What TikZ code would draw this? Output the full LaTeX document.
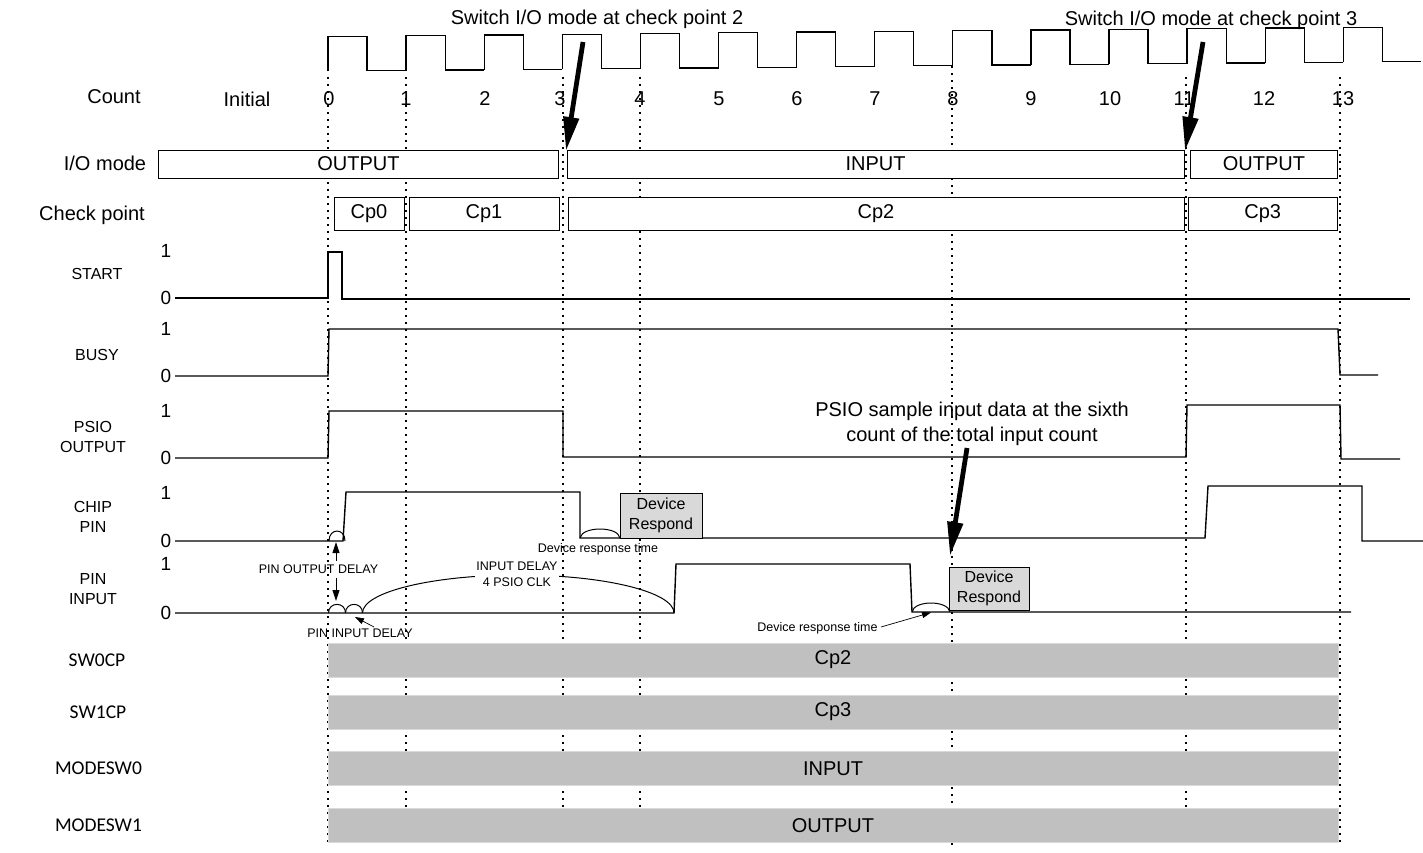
\documentclass[tikz,border=0pt]{standalone}
\usepackage{fontspec}
\setmainfont{Liberation Sans}
\newfontfamily\calibfont{Carlito}
\usetikzlibrary{arrows.meta}
\definecolor{barfill}{HTML}{C0C0C0}
\definecolor{barline}{HTML}{D9D9D9}
\definecolor{respfill}{HTML}{D9D9D9}
\begin{document}
\begin{tikzpicture}[x=1pt,y=-1pt,
  big/.style={font=\fontsize{20}{25}\selectfont, inner sep=0pt, align=center},
  mid/.style={font=\fontsize{16}{20}\selectfont, inner sep=0pt, align=center},
  lvl/.style={font=\fontsize{19}{22}\selectfont, inner sep=0pt},
  tiny/.style={font=\fontsize{12.5}{15.5}\selectfont, inner sep=0pt, align=center},
  sigl/.style={font=\calibfont\fontsize{19.5}{23}\selectfont, inner sep=0pt},
  wave/.style={line width=1.4pt, line join=miter},
  clk/.style={line width=1.3pt},
  gridline/.style={line width=1.6pt, dash pattern=on 1.6pt off 5.4pt},
  modebox/.style={draw, fill=white, line width=0.9pt, inner sep=0pt, font=\fontsize{20}{24}\selectfont},
  respbox/.style={draw, fill=respfill, line width=0.9pt, inner sep=0pt, align=center, font=\fontsize{16}{20}\selectfont},
  sigbar/.style={fill=barfill, draw=barline, line width=1pt, inner sep=0pt, minimum height=34pt, minimum width=1010pt, font=\fontsize{20}{24}\selectfont},
  bigarrow/.style={line width=4.8pt, -{Triangle[length=34pt,width=15pt]}},
  smallarrow/.style={line width=0.9pt, -{Triangle[length=11pt,width=7pt]}},
  thinarrow/.style={line width=0.7pt, -{Triangle[length=9pt,width=6pt]}},
  bump/.style={line width=1pt},
]
\useasboundingbox (0,0) rectangle (1423,853);

% dotted grid lines
\foreach \gx/\gy in {328/77, 406/77, 563/77, 640/77, 952/66, 1186/77, 1340/77}
  \draw[gridline] (\gx,\gy) -- (\gx,845);

% clock
\foreach \k in {0,...,13} {
  \pgfmathsetmacro\xa{328+78.1*\k}
  \pgfmathsetmacro\xb{\xa+39.05}
  \pgfmathsetmacro\xc{\xa+78.1}
  \pgfmathsetmacro\hi{36.3-0.0089*(\xa-328)}
  \pgfmathsetmacro\lo{71-0.0089*(\xb-328)}
  \pgfmathsetmacro\lop{\lo+0.0089*78.1}
  \draw[clk] (\xa,\lop) -- (\xa,\hi) -- (\xb,\hi) -- (\xb,\lo) -- (\xc,\lo);
}

% titles
\node[big] (t2) at (597,19) {Switch I/O mode at check point 2};
\node[big] (t3) at (1211,20) {Switch I/O mode at check point 3};

% count row
\node[big] (count) at (114,97) {Count};
\node[big] (initial) at (247,99) {Initial};
\foreach \i/\lx in {0/329,1/406,2/485,3/560,4/640,5/719,6/797,7/875,8/953,9/1031,10/1110,11/1184,12/1264,13/1343}
  \node[big] (c\i) at (\lx,99) {\i};

% I/O mode row
\node[big] (iolab) at (105,163) {I/O mode};
\node[modebox, minimum width=400pt, minimum height=28pt] (io1) at (358.5,164) {OUTPUT};
\node[modebox, minimum width=617pt, minimum height=28pt] (io2) at (875.5,164) {INPUT};
\node[modebox, minimum width=147pt, minimum height=28pt] (io3) at (1264,164) {OUTPUT};

% check point row
\node[big] (cplab) at (92,215) {Check point};
\node[modebox, minimum width=70pt, minimum height=32.5pt] (cp0) at (369,213.7) {Cp0};
\node[modebox, minimum width=150pt, minimum height=32.5pt] (cp1) at (484,213.7) {Cp1};
\node[modebox, minimum width=616pt, minimum height=32.5pt] (cp2) at (876,213.7) {Cp2};
\node[modebox, minimum width=149.5pt, minimum height=32.5pt] (cp3) at (1262.75,213.7) {Cp3};

% signal labels
\node[mid] (lstart) at (97,274) {START};
\node[mid] (lbusy) at (97,355) {BUSY};
\node[mid] (lpsio) at (93,437) {PSIO\\OUTPUT};
\node[mid] (lchip) at (93,517) {CHIP\\PIN};
\node[mid] (lpin) at (93,589) {PIN\\INPUT};
\foreach \nm/\ya/\yb in {s/251/298, b/329/376, p/411/458, c/493/541, i/564/613} {
  \node[lvl] (one\nm) at (166,\ya) {1};
  \node[lvl] (zero\nm) at (166,\yb) {0};
}

% waveforms
\draw[wave] (175,298) -- (328,298) -- (328,252) -- (342,252) -- (342,299) -- (1410,299);
\draw[wave] (175,376) -- (328,376) -- (329,329) -- (1338,329) -- (1340,375) -- (1378,375);
\draw[wave] (175,458) -- (328,458) -- (329,411) -- (563,411) -- (563,457) -- (1186,457) -- (1187,405) -- (1340,405) -- (1341,459) -- (1400,459);
\draw[wave] (175,541) -- (343,541) -- (346,492) -- (580,492) -- (580,538) -- (1205,538) -- (1208,486) -- (1362,486) -- (1362,541) -- (1423,541);
\draw[wave] (175,613) -- (674,613) -- (676,564) -- (910,564) -- (912,612) -- (1351,612);

% bumps (delays)
\draw[bump] (329,541) .. controls (329,527.7) and (345,527.7) .. (345,541);
\draw[bump] (580,538) .. controls (582,526) and (618,526) .. (620,538);
\draw[bump] (328.5,613) .. controls (328.5,601.5) and (345.5,601.5) .. (345.5,613);
\draw[bump] (345.5,613) .. controls (345.5,601.5) and (362.5,601.5) .. (362.5,613);
\draw[bump] (362.5,613) .. controls (362.5,592) and (432.5,575) .. (518.4,575) .. controls (604.3,575) and (674,592) .. (674,613);
\draw[bump] (912,612) .. controls (914,600) and (948,600) .. (950,612);

% device respond boxes
\node[respbox, minimum width=82pt, minimum height=45pt] (dr1) at (661,515.5) {Device\\Respond};
\node[respbox, minimum width=80pt, minimum height=43pt] (dr2) at (989,588.5) {Device\\Respond};

% annotation texts
\node[tiny] (drt1) at (598,549) {Device response time};
\node[tiny] (drt2) at (817.5,628) {Device response time};
\node[tiny] (pod) at (318.5,569) {PIN OUTPUT DELAY};
\node[tiny] (pid) at (360,633) {PIN INPUT DELAY};
\node[tiny, fill=white, inner sep=1pt] (idl) at (517,574.5) {INPUT DELAY\\4 PSIO CLK};
\node[big] (psio) at (972,423.5) {PSIO sample input data at the sixth\\count of the total input count};

% small arrows
\coordinate (podup) at (336,561);
\coordinate (podupt) at (336,542);
\coordinate (poddn) at (336,578);
\coordinate (poddnt) at (336,601);
\draw[smallarrow] (podup) -- (podupt);
\draw[smallarrow] (poddn) -- (poddnt);
\coordinate (pids) at (374,627);
\coordinate (pide) at (355,617);
\draw[thinarrow] (pids) -- (pide);
\coordinate (drs) at (881,627);
\coordinate (dre) at (931,612.5);
\draw[thinarrow] (drs) -- (dre);

% big arrows
\coordinate (a1s) at (583,42);
\coordinate (a1e) at (566,151);
\coordinate (a2s) at (1203,42);
\coordinate (a2e) at (1185,151);
\coordinate (a3s) at (967,448);
\coordinate (a3e) at (950,556);
\draw[bigarrow] (a1s) -- (a1e);
\draw[bigarrow] (a2s) -- (a2e);
\draw[bigarrow] (a3s) -- (a3e);

% bottom bars
\node[sigl] (lsw0) at (97,660) {SW0CP};
\node[sigl] (lsw1) at (98,712) {SW1CP};
\node[sigl] (lm0) at (98.5,768) {MODESW0};
\node[sigl] (lm1) at (98.5,825) {MODESW1};
\node[sigbar] (bsw0) at (833,660) {Cp2};
\node[sigbar] (bsw1) at (833,712) {Cp3};
\node[sigbar] (bm0) at (833,768.5) {INPUT};
\node[sigbar] (bm1) at (833,825.5) {OUTPUT};
\end{tikzpicture}
\end{document}
